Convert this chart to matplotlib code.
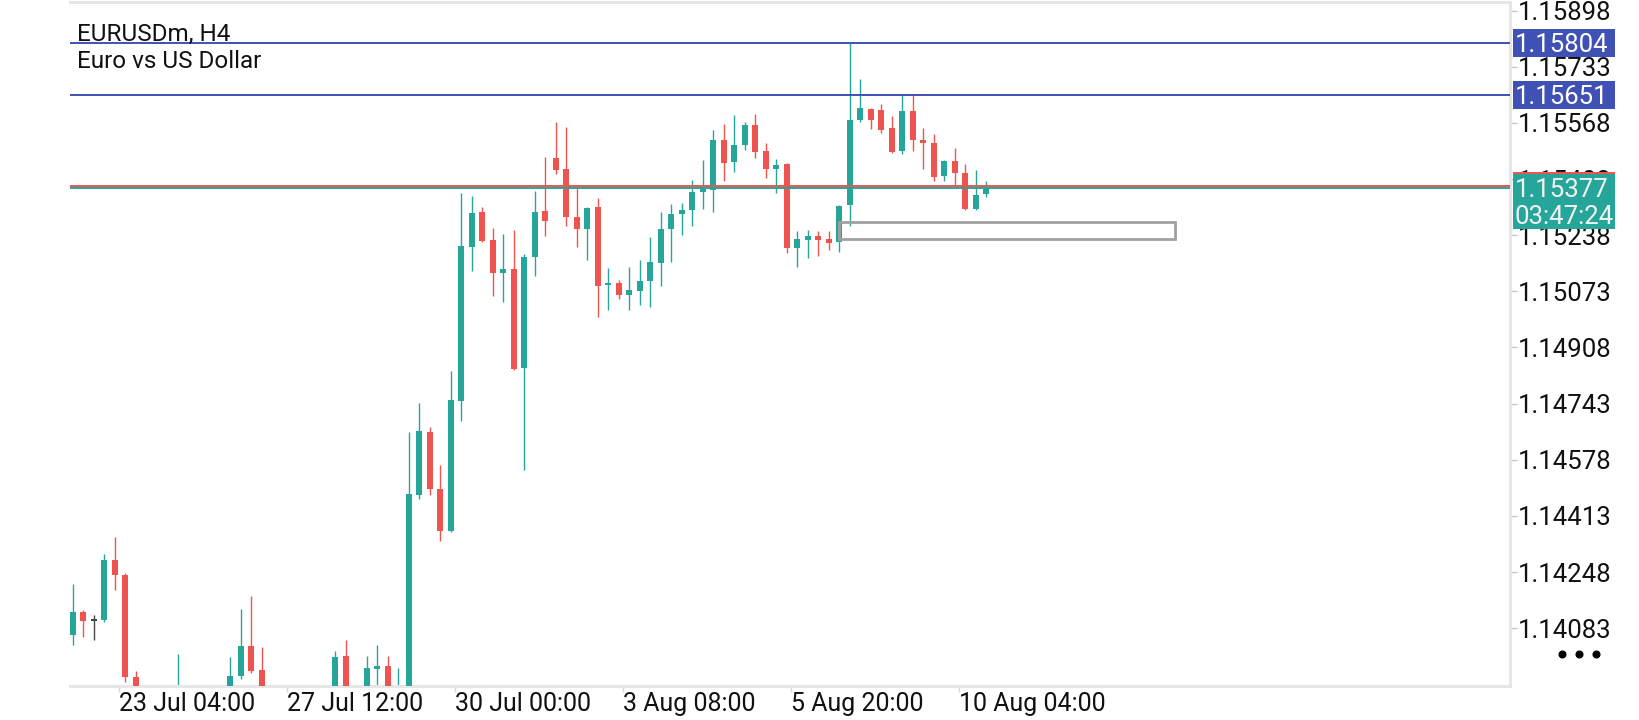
import matplotlib
matplotlib.use("Agg")
import matplotlib.pyplot as plt
import matplotlib.transforms as mtransforms
from matplotlib.patches import Rectangle
from matplotlib.lines import Line2D
import numpy as np

# ---------------- data ----------------
symbol_title = "EURUSDm, H4"
symbol_desc = "Euro vs US Dollar"

opens = [1.14063, 1.14131, 1.14106, 1.14107, 1.14284, 1.14240, 1.13940, 1.13880, 1.13830, 1.13860,
         1.13850, 1.13900, 1.13870, 1.13850, 1.13880, 1.13895, 1.13941, 1.14031, 1.13960, 1.13890,
         1.13850, 1.13870, 1.13860, 1.13840, 1.13860, 1.13900, 1.14002, 1.13905, 1.13885, 1.13964,
         1.13972, 1.13880, 1.13905, 1.14473, 1.14660, 1.14493, 1.14370, 1.14752, 1.15202, 1.15307,
         1.15225, 1.15126, 1.15140, 1.14847, 1.15173, 1.15310, 1.15466, 1.15434, 1.15293, 1.15255,
         1.15320, 1.15091, 1.15099, 1.15061, 1.15073, 1.15102, 1.15155, 1.15255, 1.15300, 1.15311,
         1.15364, 1.15370, 1.15519, 1.15452, 1.15502, 1.15563, 1.15485, 1.15432, 1.15446, 1.15199,
         1.15223, 1.15237, 1.15228, 1.15219, 1.15326, 1.15576, 1.15610, 1.15607, 1.15552, 1.15485,
         1.15604, 1.15519, 1.15510, 1.15411, 1.15455, 1.15422, 1.15314, 1.15358]
highs = [1.14213, 1.14137, 1.14122, 1.14302, 1.14352, 1.14246, 1.13957, 1.13905, 1.13890, 1.13900,
         1.14007, 1.13910, 1.13905, 1.13895, 1.13908, 1.13997, 1.14140, 1.14178, 1.14027, 1.13905,
         1.13890, 1.13900, 1.13895, 1.13880, 1.13905, 1.14016, 1.14049, 1.13910, 1.14001, 1.14034,
         1.14002, 1.13966, 1.14661, 1.14746, 1.14675, 1.14563, 1.14838, 1.15363, 1.15352, 1.15322,
         1.15260, 1.15243, 1.15254, 1.15184, 1.15369, 1.15469, 1.15572, 1.15557, 1.15381, 1.15322,
         1.15346, 1.15143, 1.15107, 1.15146, 1.15166, 1.15232, 1.15305, 1.15331, 1.15334, 1.15401,
         1.15460, 1.15546, 1.15566, 1.15590, 1.15572, 1.15593, 1.15510, 1.15463, 1.15451, 1.15251,
         1.15254, 1.15251, 1.15249, 1.15328, 1.15804, 1.15696, 1.15613, 1.15625, 1.15587, 1.15652,
         1.15651, 1.15552, 1.15537, 1.15460, 1.15493, 1.15446, 1.15431, 1.15398]
lows = [1.14034, 1.14058, 1.14047, 1.14102, 1.14194, 1.13925, 1.13850, 1.13800, 1.13790, 1.13810,
        1.13820, 1.13840, 1.13820, 1.13800, 1.13840, 1.13880, 1.13935, 1.13950, 1.13870, 1.13820,
        1.13800, 1.13830, 1.13810, 1.13790, 1.13830, 1.13880, 1.13880, 1.13860, 1.13870, 1.13890,
        1.13880, 1.13860, 1.13890, 1.14463, 1.14475, 1.14340, 1.14367, 1.14691, 1.15132, 1.15217,
        1.15058, 1.15041, 1.14841, 1.14547, 1.15117, 1.15235, 1.15417, 1.15264, 1.15202, 1.15164,
        1.14999, 1.15019, 1.15052, 1.15019, 1.15032, 1.15026, 1.15088, 1.15158, 1.15238, 1.15264,
        1.15315, 1.15305, 1.15397, 1.15423, 1.15488, 1.15464, 1.15405, 1.15361, 1.15185, 1.15144,
        1.15172, 1.15178, 1.15196, 1.15190, 1.15266, 1.15570, 1.15549, 1.15538, 1.15481, 1.15476,
        1.15485, 1.15432, 1.15397, 1.15396, 1.15385, 1.15313, 1.15311, 1.15349]
closes = [1.14131, 1.14105, 1.14106, 1.14284, 1.14238, 1.13938, 1.13880, 1.13830, 1.13860, 1.13850,
          1.13900, 1.13870, 1.13850, 1.13880, 1.13895, 1.13941, 1.14031, 1.13958, 1.13890, 1.13850,
          1.13870, 1.13860, 1.13840, 1.13860, 1.13895, 1.13999, 1.13900, 1.13880, 1.13966, 1.13972,
          1.13900, 1.13905, 1.14478, 1.14663, 1.14491, 1.14370, 1.14755, 1.15205, 1.15304, 1.15220,
          1.15126, 1.15140, 1.14844, 1.15175, 1.15307, 1.15279, 1.15429, 1.15291, 1.15255, 1.15319,
          1.15088, 1.15099, 1.15061, 1.15078, 1.15102, 1.15158, 1.15257, 1.15301, 1.15313, 1.15366,
          1.15375, 1.15519, 1.15449, 1.15504, 1.15563, 1.15482, 1.15432, 1.15443, 1.15199, 1.15228,
          1.15237, 1.15225, 1.15214, 1.15325, 1.15578, 1.15613, 1.15576, 1.15547, 1.15482, 1.15602,
          1.15517, 1.15508, 1.15408, 1.15455, 1.15420, 1.15314, 1.15357, 1.15377]

x_tick_labels = ["23 Jul 04:00", "27 Jul 12:00", "30 Jul 00:00",
                 "3 Aug 08:00", "5 Aug 20:00", "10 Aug 04:00"]
x_tick_bars = [4.45, 20.45, 36.45, 52.45, 68.45, 84.45]
y_ticks = [1.15898, 1.15733, 1.15568, 1.15403, 1.15238, 1.15073,
           1.14908, 1.14743, 1.14578, 1.14413, 1.14248, 1.14083]
level_lines = [1.15804, 1.15651]
bid_price = 1.15377
ask_price = 1.15384
bar_timer = "03:47:24"
zone_start, zone_end = 72.95, 105.0
zone_low, zone_high = 1.15227, 1.15277

# ---------------- style ----------------
GREEN = "#26a69a"
RED = "#ef5350"
DOJI = "#454545"
BLUE = "#3f51b5"
BORDER = "#e6e6e6"
FONT = "Roboto"
YLAB_FS = 18.5
XLAB_FS = 18
TITLE_FS = 17.5

W, H = 1640, 720
fig = plt.figure(figsize=(W / 100, H / 100), dpi=100)
ax_l, ax_r, ax_t, ax_b = 70, 1510, 1.5, 686
ax = fig.add_axes([ax_l / W, (H - ax_b) / H, (ax_r - ax_l) / W, (ax_b - ax_t) / H])

ymin, ymax = 1.13913, 1.15925
xmin, xmax = -0.257, 136.886
ax.set_xlim(xmin, xmax)
ax.set_ylim(ymin, ymax)
dy = (ymax - ymin) / (ax_b - ax_t)  # price per pixel

o = np.array(opens); hi = np.array(highs); lo = np.array(lows); c = np.array(closes)
xs = np.arange(len(o))
colors = np.where(c > o, GREEN, np.where(c < o, RED, DOJI))
ax.vlines(xs, lo, hi, colors=colors, linewidth=1.0, zorder=2)
min_h = 2.0 * dy
body_h = np.maximum(np.abs(c - o), min_h)
body_b = np.where(np.abs(c - o) < min_h, (o + c) / 2 - min_h / 2, np.minimum(o, c))
ax.bar(xs, body_h, bottom=body_b, width=0.6, color=colors, linewidth=0, zorder=3)

# horizontal levels
for lv in level_lines:
    ax.axhline(lv, color=BLUE, linewidth=1.4, zorder=4)
ax.axhline(ask_price, color=RED, linewidth=1.4, zorder=4)
ax.axhline(bid_price, color=GREEN, linewidth=1.4, zorder=4)

# zone rectangle
ax.add_patch(Rectangle((zone_start, zone_low), zone_end - zone_start, zone_high - zone_low,
                       fill=False, edgecolor="#a0a0a0", linewidth=2.0, zorder=4))

# axes styling
ax.spines["left"].set_visible(False)
for side in ["top", "bottom", "right"]:
    ax.spines[side].set_color(BORDER)
    ax.spines[side].set_linewidth(2.2)
ax.yaxis.tick_right()
ax.set_yticks(y_ticks)
ax.set_yticklabels([f"{v:.5f}" for v in y_ticks])
ax.tick_params(axis="y", direction="out", length=5, width=1, color="#c8c8c8",
               pad=0.5, labelsize=YLAB_FS, labelcolor="#111111")
ax.set_xticks(x_tick_bars)
ax.set_xticklabels(x_tick_labels)
ax.tick_params(axis="x", direction="out", length=4, width=1, color="#d6d6d6",
               pad=0.5, labelsize=XLAB_FS, labelcolor="#111111")
for lbl in ax.get_xticklabels() + ax.get_yticklabels():
    lbl.set_fontfamily(FONT)
for lbl in ax.get_xticklabels():
    lbl.set_ha("left")

# price label boxes on the right
trans = mtransforms.blended_transform_factory(ax.transAxes, ax.transData)
bx0 = (1513 - ax_l) / (ax_r - ax_l)
bx1 = (1615 - ax_l) / (ax_r - ax_l)
tx = (1515 - ax_l) / (ax_r - ax_l)

def price_box(price, color, top_px, bot_px, z):
    ax.add_patch(Rectangle((bx0, price - bot_px * dy), bx1 - bx0, (top_px + bot_px) * dy,
                           transform=trans, facecolor=color, edgecolor="none",
                           clip_on=False, zorder=z))

for lv in level_lines:
    price_box(lv, BLUE, 14, 14, 6)
    ax.text(tx, lv, f"{lv:.5f}", transform=trans, ha="left", va="center_baseline",
            fontsize=YLAB_FS, color="white", family=FONT, zorder=7, clip_on=False)

price_box(ask_price, RED, 14, 14, 6)
price_box(bid_price, GREEN, 13.7, 41.3, 7)
ax.text(tx, bid_price, f"{bid_price:.5f}", transform=trans, ha="left", va="center_baseline",
        fontsize=YLAB_FS, color="#f2f2f2", family=FONT, zorder=8, clip_on=False)
ax.text(tx, bid_price - 27 * dy, bar_timer, transform=trans, ha="left", va="center_baseline",
        fontsize=YLAB_FS, color="#f2f2f2", family=FONT, zorder=8, clip_on=False)

# symbol title
fig.text(77 / W, (H - 41) / H, symbol_title, ha="left", va="baseline",
         fontsize=TITLE_FS, color="#111111", family=FONT)
fig.text(77 / W, (H - 68) / H, symbol_desc, ha="left", va="baseline",
         fontsize=TITLE_FS, color="#111111", family=FONT)

# menu dots
fig.add_artist(Line2D([1562 / W, 1579 / W, 1596 / W], [(H - 654) / H] * 3,
                      transform=fig.transFigure, linestyle="none", marker="o",
                      markersize=4.8, color="black"))

fig.savefig("out.png", dpi=100, facecolor="white")
